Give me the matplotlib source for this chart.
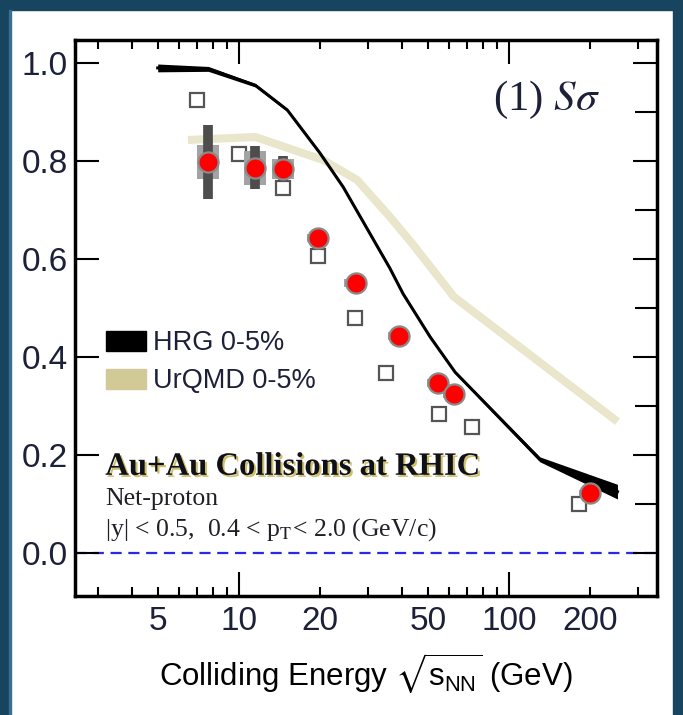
""" S-sigma of net-proton vs colliding energy """
import matplotlib.pyplot as plt
import matplotlib.ticker as ticker
from matplotlib.patches import Rectangle, Patch
import matplotlib.patheffects as pe
import numpy as np

plt.rcParams['mathtext.fontset'] = 'stix'

# measured net-proton S*sigma (red points)
data_x = [7.7, 11.5, 14.5, 19.6, 27, 39, 54.4, 62.4, 200]
data_y = [0.798, 0.786, 0.784, 0.643, 0.551, 0.443, 0.347, 0.324, 0.122]
data_stat = [0.075, 0.044, 0.026, 0.010, 0.008, 0.008, 0.008, 0.008, 0.006]
data_sys = [0.034, 0.035, 0.020, 0.008, 0.008, 0.008, 0.008, 0.008, 0.006]

# open squares
open_x = [7.0, 10.0, 14.5, 19.6, 26.9, 35, 55, 73, 181]
open_y = [0.924, 0.814, 0.745, 0.606, 0.480, 0.368, 0.284, 0.257, 0.100]

# HRG 0-5% band
hrg_x = [5.0, 7.7, 11.5, 15.1, 19.95, 24.3, 36.2, 40.5, 51, 63.1, 130, 252]
hrg_lo = [0.982, 0.983, 0.951, 0.901, 0.813, 0.744, 0.578, 0.526, 0.438, 0.366, 0.186, 0.110]
hrg_hi = [0.998, 0.993, 0.958, 0.907, 0.819, 0.750, 0.584, 0.532, 0.444, 0.372, 0.196, 0.140]

# UrQMD 0-5%
urqmd_x = [6.47, 11.5, 20.5, 27.4, 36.2, 44, 62.4, 252]
urqmd_y = [0.843, 0.849, 0.802, 0.761, 0.686, 0.630, 0.523, 0.268]

tick_font = ['Liberation Sans', 'DejaVu Sans']
text_col = '#1c2038'

fig = plt.figure(figsize=(6.83, 7.15), dpi=100)
fig.patch.set_facecolor('white')
# dark frame round the picture
for (x0, y0, w, h) in [(0, 0, 9 / 683, 1), (0, 1 - 10 / 715, 1, 10 / 715),
                       (1 - 10 / 683, 0, 10 / 683, 1)]:
    fig.patches.append(Rectangle((x0, y0), w, h, transform=fig.transFigure,
                                 color='#17445f', zorder=0))
fig.patches.append(Rectangle((9 / 683, 0), 2 / 683, 1 - 10 / 715,
                             transform=fig.transFigure, color='#3a6f92', zorder=0))

ax = fig.add_axes([75 / 683, 119 / 715, 582 / 683, 556 / 715])

# models
ax.plot(urqmd_x, urqmd_y, color='#e9e6cb', lw=5.8, solid_capstyle='butt', zorder=2)
hrg_mid = (np.array(hrg_lo) + np.array(hrg_hi)) / 2
ax.fill_between(hrg_x, hrg_lo, hrg_hi, color='black', lw=0, zorder=3)
ax.plot(hrg_x, hrg_mid, color='black', lw=2.2, zorder=3)

# zero line
ax.axhline(0, color='#2a2ae6', lw=1.6, ls=(0, (5, 3)), zorder=1)

# open squares
ax.plot(open_x, open_y, 's', ms=10.5, mfc='white', mec='#555555', mew=1.6,
        ls='none', zorder=4)

# systematic boxes, statistical bars, points
f = 1.099
for x, y, st, sy in zip(data_x, data_y, data_stat, data_sys):
    ax.add_patch(Rectangle((x / f, y - sy), x * f - x / f, 2 * sy,
                           color='#a3a3a3', lw=0, zorder=5))
ax.errorbar(data_x, data_y, yerr=data_stat, fmt='none', ecolor='#4d4d4d',
            elinewidth=7, capsize=0, zorder=6)
ax.plot(data_x, data_y, 'o', ms=14.5, mfc='red', mec='#8a8a8a', mew=1.6,
        ls='none', zorder=7)

ax.set_xscale('log')
ax.set_xlim(2.47, 353)
ax.set_ylim(-0.088, 1.047)

# x ticks: long at 10 and 100, labels also on some minors
ax.xaxis.set_major_locator(ticker.FixedLocator([10, 100]))
ax.xaxis.set_major_formatter(ticker.FixedFormatter(['10', '100']))
ax.xaxis.set_minor_locator(ticker.LogLocator(subs=np.arange(2, 10)))
ax.xaxis.set_minor_formatter(ticker.FuncFormatter(
    lambda v, p: '%g' % v if round(v) in (5, 20, 50, 200) else ''))
ax.yaxis.set_major_locator(ticker.MultipleLocator(0.2))
ax.yaxis.set_minor_locator(ticker.MultipleLocator(0.1))
ax.yaxis.set_major_formatter(ticker.FormatStrFormatter('%.1f'))

ax.tick_params(which='both', direction='in', top=True, right=True, width=1.5,
               colors='black', labelcolor=text_col)
ax.tick_params(axis='x', which='major', length=17, pad=7)
ax.tick_params(axis='x', which='minor', length=6.5, pad=7)
ax.tick_params(axis='y', which='major', length=17, pad=5)
ax.tick_params(axis='y', which='minor', length=16, left=False, right=True)
for lab in ax.get_xticklabels(which='both') + ax.get_yticklabels():
    lab.set_family(tick_font)
    lab.set_fontsize(24)
for s in ax.spines.values():
    s.set_linewidth(2.5)

ax.set_xlabel(r'Colliding Energy $\sqrt{\mathregular{s_{NN}}}$ (GeV)',
              family=tick_font, fontsize=22.5, color='black', labelpad=10)

# legend
hands = [Patch(color='black', label='HRG 0-5%'),
         Patch(color='#d2ca96', label='UrQMD 0-5%')]
leg = ax.legend(handles=hands, loc='upper left', bbox_to_anchor=(0.053, 0.478),
                frameon=False, handlelength=1.5, handleheight=0.75,
                handletextpad=0.25, labelspacing=0.45, borderpad=0, borderaxespad=0,
                prop={'family': 'Liberation Sans', 'size': 19.5})
for t in leg.get_texts():
    t.set_color(text_col)

# panel label and texts
ax.text(0.902, 0.893, r'(1) $S\sigma$', transform=ax.transAxes, ha='right',
        va='center', fontsize=31, family='Liberation Serif', color=text_col)
ax.text(0.052, 0.218, 'Au+Au Collisions at RHIC', transform=ax.transAxes,
        fontsize=23.5, family='Liberation Serif', weight='bold', color='#101018',
        path_effects=[pe.withSimplePatchShadow(offset=(1.5, -1.5),
                                               shadow_rgbFace='#c9b85a', alpha=0.9)])
ax.text(0.052, 0.164, 'Net-proton', transform=ax.transAxes, fontsize=18.5,
        family='Liberation Serif', color='#202028')
ax.text(0.052, 0.108, r'|y| < 0.5,  0.4 < p$_{\rm T}$< 2.0 (GeV/c)',
        transform=ax.transAxes, fontsize=18.5, family='Liberation Serif',
        color='#202028')

fig.savefig('out.png', dpi=100)
